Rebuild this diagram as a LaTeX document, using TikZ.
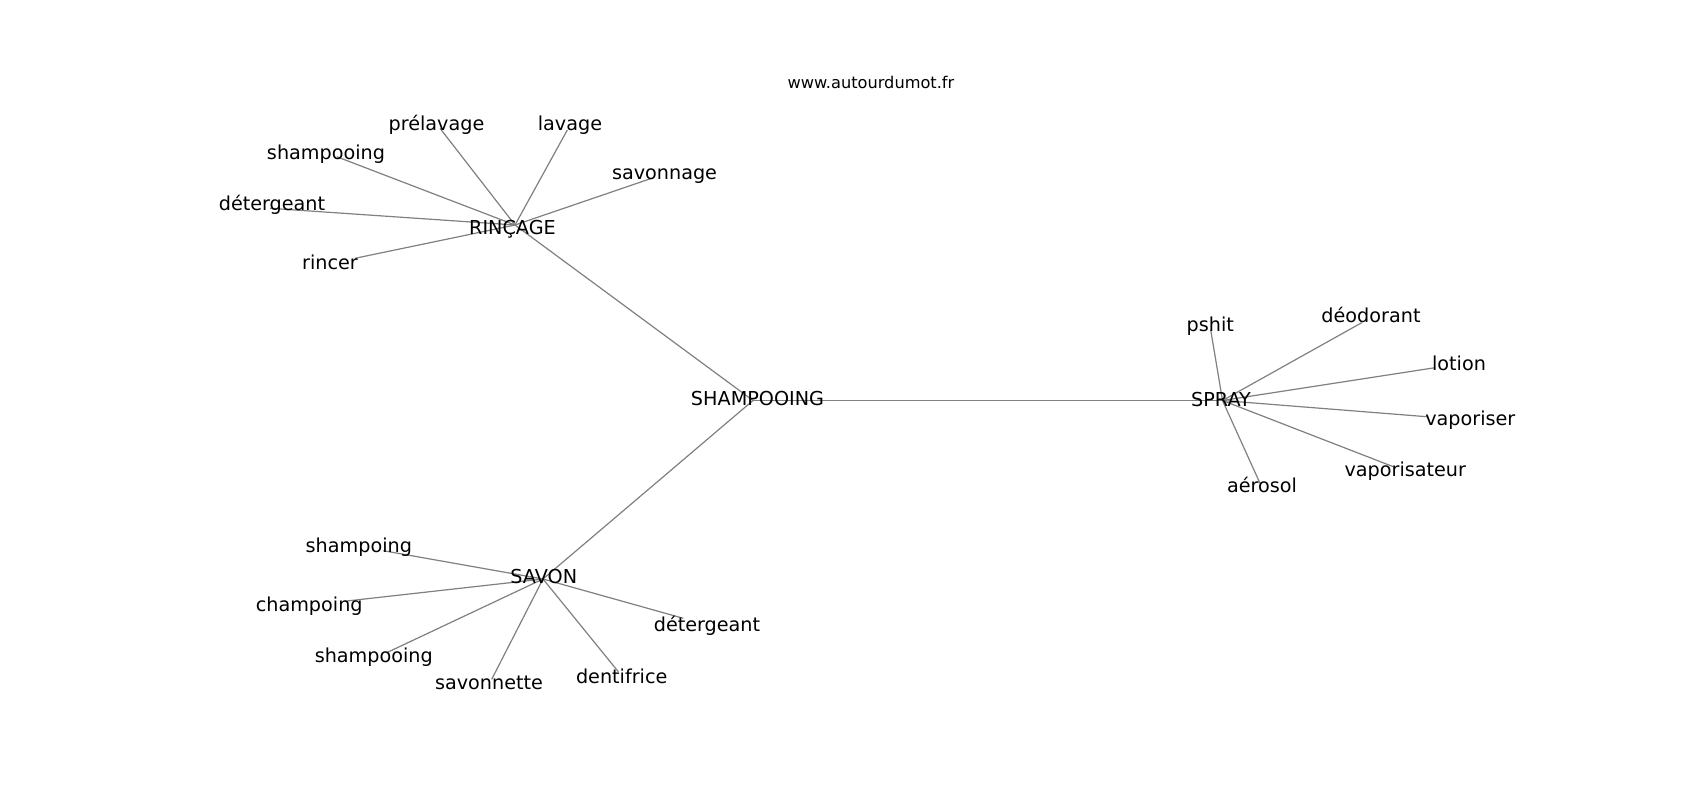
\documentclass[tikz,border=0pt]{standalone}
\usepackage{fontspec}
\setmainfont{DejaVu Sans}
\definecolor{edgegray}{RGB}{128,128,128}
\begin{document}
\begin{tikzpicture}[x=1pt,y=-1pt,
  edge/.style={draw=edgegray, line width=1.2pt},
  lbl/.style={anchor=base, inner sep=0pt, text=black, font=\fontsize{19.2}{23}\selectfont},
  ttl/.style={anchor=base, inner sep=0pt, text=black, font=\fontsize{16.2}{20}\selectfont}]
\useasboundingbox[fill=white] (0,0) rectangle (1700,800);

% hub points
\coordinate (hS) at (753,400.5);
\coordinate (hR) at (515,225);
\coordinate (hV) at (543,579);
\coordinate (hP) at (1222.5,400.5);

% leaf points (RINCAGE)
\coordinate (cPrel) at (440,128.3);
\coordinate (cLav) at (567.3,130);
\coordinate (cShR) at (336.7,156.7);
\coordinate (cSavg) at (651.7,178.3);
\coordinate (cDetR) at (270,208.3);
\coordinate (cRinc) at (355,258.3);
% leaf points (SPRAY)
\coordinate (cPsh) at (1210.7,330);
\coordinate (cDeo) at (1361.7,322.7);
\coordinate (cLot) at (1435,367.7);
\coordinate (cVapr) at (1426.7,416.7);
\coordinate (cVapt) at (1393.3,466.7);
\coordinate (cAer) at (1260,483.3);
% leaf points (SAVON)
\coordinate (cShg) at (383.3,550.7);
\coordinate (cCh) at (346.7,601);
\coordinate (cShV) at (386.7,652.7);
\coordinate (cSvt) at (491.7,679.3);
\coordinate (cDen) at (618.3,671.7);
\coordinate (cDetV) at (683.3,618.3);

% edges
\draw[edge] (hS) -- (hR);
\draw[edge] (hS) -- (hV);
\draw[edge] (hS) -- (hP);
\foreach \c in {cPrel,cLav,cShR,cSavg,cDetR,cRinc} \draw[edge] (hR) -- (\c);
\foreach \c in {cPsh,cDeo,cLot,cVapr,cVapt,cAer} \draw[edge] (hP) -- (\c);
\foreach \c in {cShg,cCh,cShV,cSvt,cDen,cDetV} \draw[edge] (hV) -- (\c);

% labels
\node[ttl] (title) at (871,88.3) {www.autourdumot.fr};

\node[lbl] (nS) at (757.5,405.7) {SHAMPOOING};
\node[lbl] (nR) at (512.5,234.3) {RINÇAGE};
\node[lbl] (nP) at (1221,406) {SPRAY};
\node[lbl] (nV) at (543.8,583.3) {SAVON};

\node[lbl] (lPrel) at (436.5,130.5) {prélavage};
\node[lbl] (lLav) at (570,130.5) {lavage};
\node[lbl] (lShR) at (326,159) {shampooing};
\node[lbl] (lSavg) at (664.5,179.3) {savonnage};
\node[lbl] (lDetR) at (272,210.7) {détergeant};
\node[lbl] (lRinc) at (330,269.3) {rincer};

\node[lbl] (lPsh) at (1210.3,331) {pshit};
\node[lbl] (lDeo) at (1371,322.7) {déodorant};
\node[lbl] (lLot) at (1459,370) {lotion};
\node[lbl] (lVapr) at (1470.3,425.7) {vaporiser};
\node[lbl] (lVapt) at (1405.3,476.7) {vaporisateur};
\node[lbl] (lAer) at (1262,492.3) {aérosol};

\node[lbl] (lShg) at (358.8,552.7) {shampoing};
\node[lbl] (lCh) at (309.2,611.7) {champoing};
\node[lbl] (lShV) at (373.8,662.7) {shampooing};
\node[lbl] (lSvt) at (489,689.3) {savonnette};
\node[lbl] (lDen) at (621.7,683.3) {dentifrice};
\node[lbl] (lDetV) at (707,631.7) {détergeant};
\end{tikzpicture}
\end{document}
